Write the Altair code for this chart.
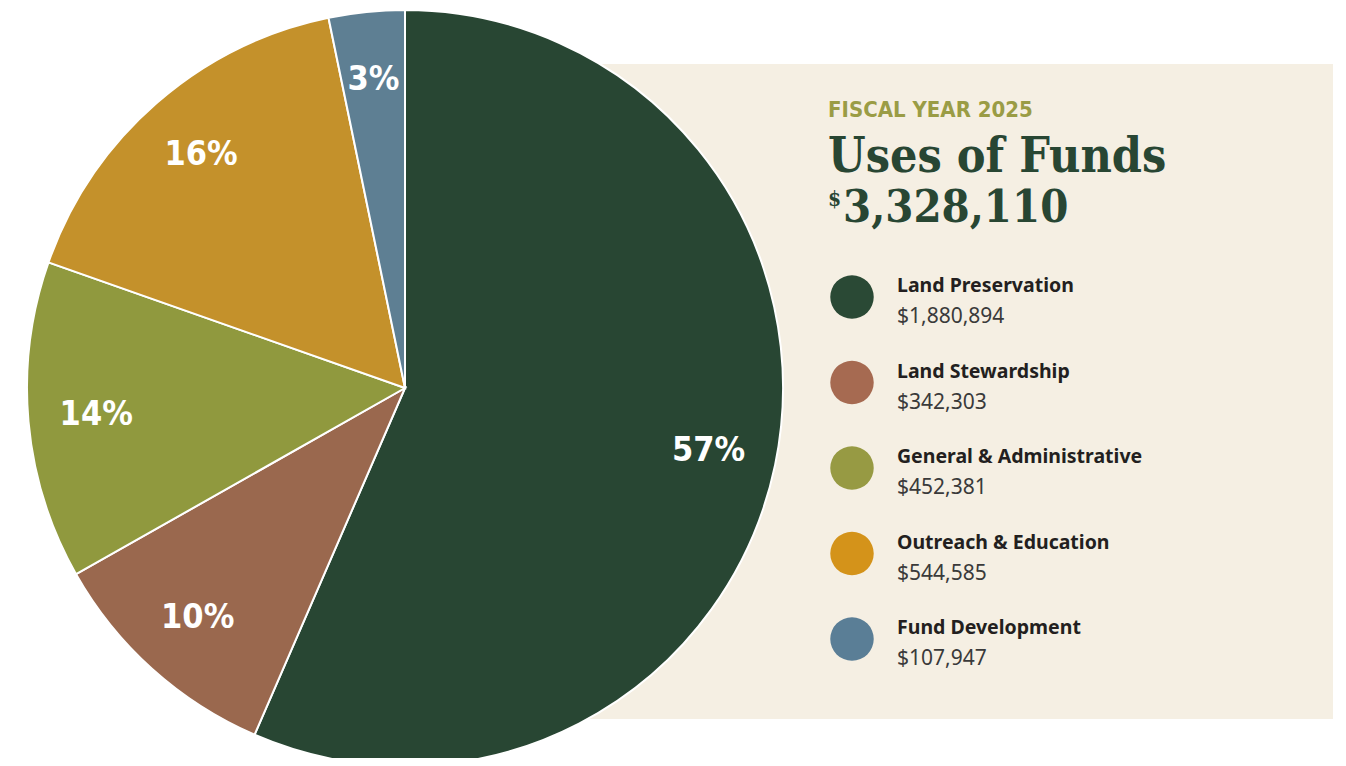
import altair as alt
import pandas as pd

categories = ["Land Preservation", "Land Stewardship", "General & Administrative",
              "Outreach & Education", "Fund Development"]
amounts = [1880894, 342303, 452381, 544585, 107947]
amount_labels = ["$1,880,894", "$342,303", "$452,381", "$544,585", "$107,947"]
order_idx = [0, 1, 2, 3, 4]

pie_colors = ["#284633", "#9A684E", "#90993E", "#C4912B", "#5E7F93"]
legend_colors = ["#2A4935", "#A66A51", "#979A43", "#D4931A", "#5A7E96"]

subtitle = "FISCAL YEAR 2025"
title = "Uses of Funds"
total_text = "3,328,110"

df = pd.DataFrame({"cat": categories, "amount": amounts,
                   "amt_label": amount_labels, "idx": order_idx})

CX, CY, R = 397, 380, 378
W, H = 1330, 750
COND = "Liberation Sans Narrow, DejaVu Sans Condensed, sans-serif"
SERIF = "DejaVu Serif Condensed, DejaVu Serif, serif"

base = alt.Chart(df)

panel = alt.Chart(pd.DataFrame({"a": [1]})).mark_rect(color="#F5EFE3").encode(
    x=alt.value(CX), x2=alt.value(1325), y=alt.value(56), y2=alt.value(711))

pie = base.mark_arc(outerRadius=R, stroke="white", strokeWidth=2).encode(
    theta=alt.Theta("amount:Q", stack=True),
    order=alt.Order("idx:Q"),
    color=alt.Color("cat:N", scale=alt.Scale(domain=categories, range=pie_colors), legend=None),
    x=alt.value(CX), y=alt.value(CY))

pct = base.transform_joinaggregate(total="sum(amount)").transform_calculate(
    pct="format(round(datum.amount / datum.total * 100), 'd') + '%'"
).mark_text(radius=310, font=COND, fontWeight="bold",
            fontSize=34, color="white", align="center", baseline="middle").encode(
    theta=alt.Theta("amount:Q", stack=True),
    order=alt.Order("idx:Q"),
    text="pct:N",
    x=alt.value(CX), y=alt.value(CY))

yscale = alt.Scale(domain=[0, 4], range=[289, 631])

dots = base.mark_circle(opacity=1, size=1890).encode(
    x=alt.value(844),
    y=alt.Y("idx:Q", scale=yscale, axis=None),
    color=alt.Color("cat:N", scale=alt.Scale(domain=categories, range=legend_colors), legend=None))

names = base.mark_text(align="left", baseline="alphabetic", dy=-5,
                       font="Noto Sans", fontWeight="bold", fontSize=19.5, color="#231F20").encode(
    x=alt.value(889), y=alt.Y("idx:Q", scale=yscale, axis=None), text="cat:N")

vals = base.mark_text(align="left", baseline="alphabetic", dy=26,
                      font="Noto Sans", fontWeight="normal", fontSize=21, color="#3A3A3A").encode(
    x=alt.value(889), y=alt.Y("idx:Q", scale=yscale, axis=None), text="amt_label:N")

t1 = alt.Chart(pd.DataFrame({"t": [subtitle]})).mark_text(
    align="left", baseline="alphabetic", font=COND, fontWeight="bold",
    fontSize=22, color="#9A9C45").encode(x=alt.value(820), y=alt.value(109), text="t:N")

t2 = alt.Chart(pd.DataFrame({"t": [title]})).mark_text(
    align="left", baseline="alphabetic", font=SERIF,
    fontWeight="bold", fontSize=48, color="#284633").encode(x=alt.value(820), y=alt.value(164), text="t:N")

t3 = alt.Chart(pd.DataFrame({"t": [total_text]})).mark_text(
    align="left", baseline="alphabetic", font=SERIF,
    fontWeight="bold", fontSize=45, color="#284633").encode(x=alt.value(835), y=alt.value(214), text="t:N")

t4 = alt.Chart(pd.DataFrame({"t": ["$"]})).mark_text(
    align="left", baseline="alphabetic", font=SERIF,
    fontWeight="bold", fontSize=21, color="#284633").encode(x=alt.value(820), y=alt.value(198), text="t:N")

chart = alt.layer(panel, pie, pct, dots, names, vals, t1, t2, t3, t4).resolve_scale(
    color="independent").properties(
    width=W, height=H, padding=0, autosize=alt.AutoSizeParams(type="none"),
    background="white").configure_view(stroke=None)

chart.save("out.html", embed_options={"renderer": "svg", "actions": False})
